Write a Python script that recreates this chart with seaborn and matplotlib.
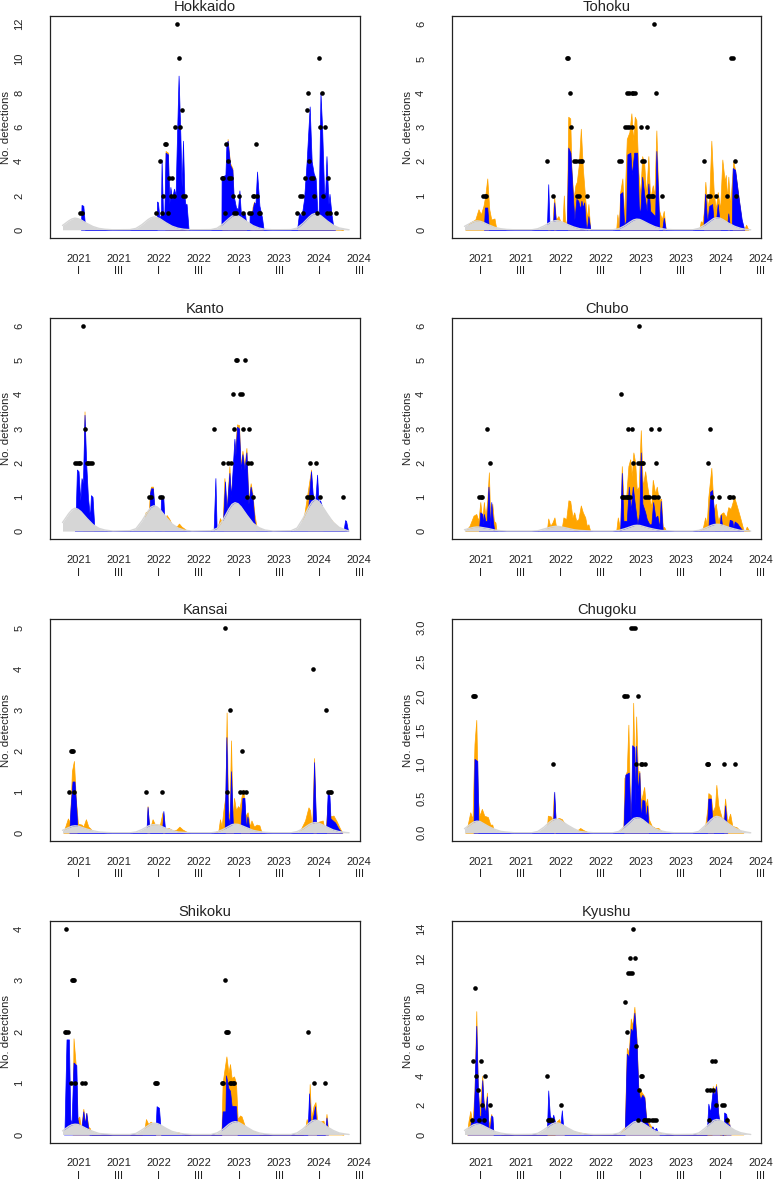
import matplotlib
matplotlib.use("Agg")
import matplotlib.pyplot as plt
import pandas as pd
import seaborn as sns

# x unit everywhere: quarters since 2021 I (0 = 2021 I, 2 = 2021 III, 4 = 2022 I ...)
TICK_POS = list(range(15))
TICK_LABELS = ["2021\nI", "", "2021\nIII", "", "2022\nI", "", "2022\nIII", "",
               "2023\nI", "", "2023\nIII", "", "2024\nI", "", "2024\nIII"]

# baseline (grey) curve, same weeks in all regions
GREY_X = [-0.82, -0.5, -0.35, -0.2, -0.05, 0.1, 0.4, 0.7, 1.0, 1.3, 1.7,
          2.55, 2.85, 3.15, 3.45, 3.6, 3.75, 3.9, 4.05, 4.35, 4.65, 4.95, 5.25, 5.65,
          6.6, 6.9, 7.2, 7.5, 7.65, 7.8, 7.95, 8.1, 8.4, 8.7, 9.0, 9.3, 9.7,
          10.6, 10.9, 11.2, 11.5, 11.65, 11.8, 11.95, 12.1, 12.4, 12.7, 13.0, 13.3, 13.5]

# Hokkaido
HOK_GREY = [.25, .53, .63, .68, .65, .58, .37, .19, .08, .03, 0,
            .01, .08, .30, .59, .70, .75, .72, .64, .41, .21, .09, .03, 0,
            .01, .09, .34, .66, .80, .85, .82, .72, .47, .24, .10, .03, 0,
            .01, .10, .38, .74, .89, .95, .91, .81, .52, .27, .11, .04, 0]
HOK_BLUE_X = [.1, .13, .22, .32,
              3.88, 3.9, 3.95, 4.02, 4.1, 4.13, 4.2, 4.27, 4.33, 4.45, 4.52, 4.57, 4.65, 4.75, 4.83, 4.88, 4.98, 5.07, 5.13, 5.2, 5.27, 5.32, 5.38, 5.48,
              7.12, 7.13, 7.32, 7.37, 7.43, 7.55, 7.67, 7.73, 7.85, 7.95, 8.02, 8.1, 8.22, 8.3, 8.4,
              8.52, 8.53, 8.67, 8.75, 8.82, 8.9, 9.02, 9.15, 9.23,
              10.9, 11.0, 11.13, 11.25, 11.38, 11.45, 11.53, 11.63, 11.73, 11.83, 11.92, 11.98, 12.07, 12.15, 12.25, 12.3, 12.37, 12.47, 12.52, 12.62, 12.72, 12.8]
HOK_BLUE_Y = [0, 1.45, 1.4, 0,
              0, 1.65, 1.6, .7, .9, 4.1, 1.0, 1.0, 4.5, 4.4, 1.5, 2.5, 1.8, 2.4, 2.0, 4.5, 9.0, 5.5, 2.5, 5.2, 2.0, 1.5, 1.5, 0,
              0, 3.1, 3.2, 5.0, 5.2, 3.8, 3.5, 2.0, 1.3, 1.2, 2.3, .8, 1.0, .9, 0,
              0, .9, 1.1, 1.6, 1.5, 3.4, 1.4, .7, 0,
              0, 1.0, .8, 1.8, 4.0, 5.5, 7.2, 4.0, 3.3, 3.0, .9, 1.0, 8.0, 6.0, 2.2, 2.0, 4.3, 1.5, 2.1, .9, .1, 0]
HOK_ORANGE_X = [4.31, 4.33, 4.45, 4.52, 6.95, 7.03, 7.1, 7.12, 7.41, 7.43, 7.55, 7.67, 7.73, 8.62, 8.67, 8.75, 8.8, 12.7, 12.85, 13.05, 13.2]
HOK_ORANGE_Y = [0, 4.6, 4.5, 0, 0, .12, .3, 0, 0, 5.3, 3.9, 3.6, 0, 0, 1.3, 1.65, 0, 0, .12, .04, 0]
HOK_PTS_X = [.05, .13, 3.83, 4.13, 4.43, 4.07, 4.22, 4.28, 4.37, 4.52, 4.67, 4.58, 4.73, 4.82, 5.07, 4.90, 4.98, 5.13, 5.22, 5.30,
             7.13, 7.22, 7.28, 7.37, 7.45, 7.52, 7.60, 7.68, 7.75, 7.83, 7.98, 8.22, 8.52, 8.60, 8.68, 8.75, 8.90, 8.83, 8.98, 9.07,
             10.92, 11.07, 11.15, 11.22, 11.30, 11.38, 11.45, 11.52, 11.60, 11.68, 11.75, 11.92, 12.0, 12.07, 12.15, 12.22, 12.30, 12.45, 12.38, 12.53, 12.83]
HOK_PTS_Y = [1, 1, 1, 1, 1, 4, 2, 5, 5, 3, 3, 2, 2, 6, 6, 12, 10, 7, 2, 2,
             3, 3, 1, 5, 4, 3, 3, 2, 1, 1, 2, 1, 1, 1, 2, 2, 2, 5, 1, 1,
             1, 2, 2, 1, 3, 7, 8, 4, 3, 3, 2, 1, 10, 6, 8, 2, 6, 3, 1, 1, 1]

# Tohoku
TOH_GREY = [.10, .20, .24, .26, .25, .22, .14, .07, .03, .01, 0,
            0, .03, .11, .21, .25, .27, .26, .23, .15, .08, .03, .01, 0,
            0, .03, .12, .24, .29, .31, .30, .26, .17, .09, .04, .01, 0,
            0, .04, .14, .27, .33, .35, .34, .30, .19, .10, .04, .01, 0]
TOH_BLUE_X = [.15, .2, .32, .4,
              3.3, 3.37, 3.43, 3.48, 3.6, 3.67, 3.75, 3.78,
              4.3, 4.37, 4.48, 4.62, 4.68, 4.78, 4.87, 4.97, 5.03, 5.1, 5.17, 5.25, 5.3, 5.38, 5.48,
              6.93, 6.97, 7.08, 7.17, 7.27, 7.33, 7.48, 7.55, 7.67, 7.82, 7.9, 7.97, 8.07, 8.18, 8.3, 8.38, 8.47, 8.63, 8.72, 8.78, 8.87, 8.93,
              9.07, 9.15, 9.25,
              11.13, 11.22, 11.32, 11.43, 11.57, 11.67, 11.77, 11.85, 11.93, 12.0,
              12.3, 12.38, 12.47, 12.55, 12.6, 12.72, 12.88, 13.05, 13.18]
TOH_BLUE_Y = [0, .65, .65, 0,
              0, 1.33, .2, 0, 0, .8, .25, 0,
              0, 2.4, 2.25, .8, .3, .9, .85, .6, .85, .65, .8, .15, 0, .4, 0,
              0, 1.05, 1.1, .1, .3, 2.2, 2.25, 1.6, 2.25, 2.25, .7, .45, 1.55, 1.0, .55, 1.35, .55, .45, .4, 2.3, 1.0, 0,
              0, .35, 0,
              0, 1.05, .2, .7, .75, .1, .3, .75, .3, 0,
              0, .48, 0, 0, 1.8, 1.75, 1.0, .3, 0]
TOH_ORANGE_X = [-.78, -.57, -.28, -.12, 0, .13, .22, .32, .42, .52, .68, .78,
                3.6, 3.62, 3.67, 3.75, 3.88, 4.0, 4.08, 4.15, 4.22, 4.3, 4.37, 4.47, 4.53, 4.63, 4.73, 4.8, 4.9, 5.0, 5.1, 5.22, 5.32, 5.38, 5.47,
                6.77, 6.83, 6.9, 6.97, 7.08, 7.17, 7.23, 7.3, 7.43, 7.53, 7.62, 7.7, 7.78, 7.88, 7.97, 8.07, 8.17, 8.27, 8.38, 8.47, 8.6, 8.68, 8.78, 8.9, 9.05, 9.15, 9.25,
                10.93, 11.0, 11.08, 11.15, 11.23, 11.33, 11.43, 11.53, 11.65, 11.75, 11.85, 11.97, 12.08, 12.2, 12.25, 12.33, 12.38, 12.47, 12.63, 12.73, 12.88, 13.05, 13.17, 13.27, 13.38]
TOH_ORANGE_Y = [0, .2, .3, .6, .45, .7, 1.0, 1.5, .6, .3, .33, 0,
                0, .6, .95, .3, .4, .2, .1, 1.0, .1, .3, 3.3, 3.25, 1.8, .9, 1.3, 1.4, 1.9, 2.95, 1.8, .9, .3, .75, 0,
                0, .45, .1, 1.1, 1.5, .3, 1.5, 2.65, 2.85, 3.4, 2.6, 3.3, 3.2, 1.7, 1.0, 2.15, 1.95, 1.0, 2.15, .9, 1.3, 1.0, 2.9, .6, .3, .55, 0,
                0, .25, .2, .5, 1.4, .6, 1.0, 2.6, 1.1, .6, 1.1, .6, 2.05, 1.4, 1.6, .9, 1.55, .7, 2.0, 1.7, 1.0, .2, 0, .15, 0]
TOH_PTS_X = [.12, .2, .27, 3.32, 3.62, 4.3, 4.38, 4.47, 4.53, 4.68, 4.77, 4.9, 5.0, 5.08, 4.83, 4.92, 5.32,
             6.92, 7.0, 7.22, 7.32, 7.4, 7.55, 7.3, 7.4, 7.55, 7.63, 7.72, 8.0, 8.32, 8.07, 8.17, 8.38, 8.47, 8.55, 8.63, 8.68, 8.77, 9.07,
             11.15, 11.38, 11.48, 11.78, 12.32, 12.77, 12.53, 12.62, 12.7]
TOH_PTS_Y = [1, 1, 1, 2, 1, 5, 5, 4, 3, 2, 2, 2, 2, 2, 1, 1, 1,
             2, 2, 3, 3, 3, 3, 4, 4, 4, 4, 4, 3, 3, 2, 2, 1, 1, 1, 1, 6, 4, 1,
             2, 1, 1, 1, 1, 1, 5, 5, 2]

# Kanto
KAN_GREY = [.25, .52, .62, .67, .64, .57, .37, .19, .08, .03, 0,
            .01, .07, .30, .58, .70, .74, .71, .63, .41, .21, .09, .03, 0,
            .01, .08, .33, .65, .78, .83, .80, .71, .46, .23, .10, .03, 0,
            .01, .09, .37, .72, .86, .92, .88, .78, .51, .26, .11, .04, 0]
KAN_BLUE_X = [-.2, -.17, -.1, -.02, .07, .13, .2, .28, .37, .45, .55, .6, .68, .78,
              3.52, 3.55, 3.6, 3.7, 3.77, 3.82, 4.07, 4.1, 4.22, 4.3,
              6.73, 6.82, 6.88, 6.93,
              7.18, 7.3, 7.38, 7.52, 7.6, 7.77, 7.82, 7.9, 8, 8.08, 8.17, 8.27, 8.37, 8.47, 8.58, 8.67, 8.77, 8.87,
              11.38, 11.52, 11.6, 11.68, 11.8, 11.9, 11.98, 12.05, 12.13, 12.23,
              13.22, 13.3, 13.35, 13.45]
KAN_BLUE_Y = [0, .3, 1.8, 1.75, .9, 1.55, 1.4, 3.4, 1.9, 1.0, .4, 1.05, 1.0, 0,
              0, 1.1, 1.25, 1.25, .7, 0, 0, 1.05, .95, 0,
              0, 1.55, .1, 0,
              0, 1.45, .6, 1.7, 1.0, 2.7, 2.2, 3.05, 3.0, 1.8, 2.25, 1.8, 2.3, .8, 1.3, 1.0, .3, 0,
              0, 1.2, 1.75, 1.1, .8, 1.65, .8, .9, .75, 0,
              0, .32, .3, 0]
KAN_ORANGE_X = [.22, .28, .37, 3.2, 3.33, 3.5, 3.53, 3.55, 3.6, 3.7, 3.77, 4.28,
                4.3, 4.38, 4.52, 4.63, 4.8, 4.88, 5, 5.13, 5.25, 5.43, 6.85,
                6.97, 7.05, 7.18, 7.27, 7.38, 7.52, 7.6, 7.9, 8, 8.08, 8.17, 8.27, 8.37, 8.47, 8.58, 8.67, 8.77, 8.88, 9.05, 9.22, 10.9,
                11.05, 11.25, 11.6, 11.68, 12.22, 12.47, 12.6, 12.72, 12.88, 13.13]
KAN_ORANGE_Y = [0, 3.5, 0, 0, .55, .6, 1.0, 1.15, 1.3, 1.3, 0, 0,
                .3, .47, .35, .2, .15, .13, .22, .13, .08, 0, 0,
                .2, .38, .2, 1.55, .6, 1.9, 1.0, 3.12, 3.1, 1.9, 2.35, 1.9, 2.43, .85, 1.4, 1.1, .5, .1, .08, 0, 0,
                .1, .45, 1.8, .5, .3, .2, .33, .25, .15, 0]
KAN_PTS_X = [.22, -.18, -.1, -.02, .07, .3, .38, .47, .55, .63, 3.5, 3.58, 4.07, 4.17,
             6.75, 7.22, 7.45, 7.6, 7.68, 7.77, 7.83, 7.92, 8.05, 8.13, 8.22, 8.52, 8.3, 8.45, 8.6, 8.38, 8.68,
             11.42, 11.5, 11.58, 11.65, 11.53, 11.83, 12.07, 13.22]
KAN_PTS_Y = [6, 2, 2, 2, 2, 3, 2, 2, 2, 2, 1, 1, 1, 1,
             3, 2, 2, 2, 4, 3, 5, 5, 4, 4, 3, 3, 5, 2, 2, 1, 1,
             1, 1, 1, 1, 2, 2, 1, 1]

# Chubo
CHU_GREY = [.04, .09, .11, .12, .115, .10, .07, .03, .01, 0, 0,
            0, .01, .06, .11, .13, .14, .135, .12, .08, .04, .02, .01, 0,
            0, .02, .07, .13, .16, .17, .165, .14, .09, .05, .02, .01, 0,
            0, .02, .08, .16, .19, .20, .195, .17, .11, .06, .02, .01, 0]
CHU_BLUE_X = [-.1, -.03, .07, .12, .15, .22, .3, .38, .47, .52, .6, .67,
              6.97, 7.05, 7.13, 7.3, 7.4, 7.5, 7.6, 7.7, 7.83, 7.93, 8.0, 8.08, 8.22, 8.3, 8.43, 8.53, 8.62, 8.73, 8.83, 8.93, 9, 9.1,
              11.38, 11.47, 11.57, 11.67, 11.73, 11.93, 12, 12.08, 12.17,
              12.38, 12.45, 12.58, 12.63, 12.7, 12.83, 13, 13.13]
CHU_BLUE_Y = [0, .55, .5, .2, .5, .3, .3, 1.3, .1, .85, .3, 0,
              0, 1.7, .3, .3, 1.3, .6, 1.3, .8, .2, .5, 2.3, .8, .55, .35, .2, .2, .85, .4, .45, .1, .88, 0,
              0, 1.15, 1.2, .5, 0, 0, .48, .1, 0,
              0, .33, .3, .1, .28, .22, .08, 0]
CHU_ORANGE_X = [-.78, -.57, -.37, -.23, -.12, -.03, .07, .15, .23, .32, .4, .47, .57, .65, .73, .78,
                3.3, 3.37, 3.47, 3.58, 3.68, 3.77, 3.88, 4.05, 4.13, 4.27, 4.38, 4.47, 4.58, 4.67, 4.77, 4.88, 5.0, 5.1, 5.22, 5.3, 5.38, 5.47,
                6.77, 6.85, 6.97, 7.05, 7.13, 7.27, 7.38, 7.47, 7.55, 7.63, 7.72, 7.8, 7.9, 8.0, 8.1, 8.22, 8.3, 8.38, 8.52, 8.6, 8.72, 8.8, 8.9, 9.02, 9.1, 9.17, 9.27,
                10.93, 11.1, 11.22, 11.3, 11.38, 11.53, 11.65, 11.75, 11.87, 12, 12.13, 12.27, 12.38, 12.5, 12.67, 12.8, 12.97, 13.13, 13.22, 13.3, 13.43]
CHU_ORANGE_Y = [0, .15, .45, .5, .3, .85, .3, .85, .4, .9, 1.72, .3, .8, .3, .25, 0,
                0, .37, .15, .25, .4, .1, .15, .1, .4, .35, .9, .88, .4, .55, .3, .35, .75, .55, .4, .15, .2, 0,
                0, .4, .05, 1.9, 1.0, 1.0, 1.9, 2.1, 1.6, 2.3, 2.0, 1.2, 1.3, 2.95, 1.3, 1.75, 1.4, 1.1, .7, 1.5, 1.1, 1.3, .9, .95, .1, .12, 0,
                0, .08, .4, .2, 1.0, 1.85, .6, .8, .3, .5, .55, .4, .7, .65, 1.0, .75, .4, .05, 0, .13, 0]
CHU_PTS_X = [-.1, 0, .08, .32, .47,
             7.0, 7.07, 7.13, 7.22, 7.3, 7.38, 7.47, 7.38, 7.55, 7.62, 7.92, 7.85, 7.97, 8.05, 8.13, 8.23, 8.32, 8.4, 8.53, 8.92, 8.63, 8.72, 8.85, 8.77,
             11.38, 11.47, 11.55, 11.93, 12.4, 12.48, 12.63]
CHU_PTS_Y = [1, 1, 1, 3, 2,
             4, 1, 1, 1, 1, 1, 1, 3, 3, 2, 6, 2, 2, 2, 2, 1, 1, 1, 3, 3, 1, 1, 1, 2,
             2, 3, 1, 1, 1, 1, 1]

# Kansai
KNS_GREY = [.06, .13, .16, .17, .165, .14, .09, .05, .02, .01, 0,
            0, .02, .08, .16, .19, .20, .195, .17, .11, .06, .02, .01, 0,
            0, .02, .08, .16, .20, .21, .205, .18, .12, .06, .03, .01, 0,
            0, .03, .10, .20, .235, .25, .24, .21, .14, .07, .03, .01, 0]
KNS_BLUE_X = [-.48, -.42, -.32, -.22, -.13, -.07,
              3.37, 3.43, 3.53, 3.57, 4.15, 4.22, 4.32,
              7.28, 7.37, 7.45, 7.53, 7.6, 7.7, 7.75, 8.05, 8.17, 8.27, 8.35, 8.42, 8.55,
              11.67, 11.75, 11.85, 11.88, 12.35, 12.43, 12.52, 12.57, 12.8, 12.97, 13.15]
KNS_BLUE_Y = [0, .6, 1.25, 1.25, .6, 0,
              0, .63, .05, 0, 0, .53, 0,
              0, 2.33, .4, .2, 1.5, .1, 0, 0, .85, .85, .1, .4, 0,
              0, 1.72, .2, 0, 0, .98, .9, .35, .25, .1, 0]
KNS_ORANGE_X = [-.78, -.65, -.55, -.45, -.35, -.25, -.15, -.05, .13, .22, .35, .47, .58, .72,
                3.38, 3.43, 3.52, 3.58, 3.68, 3.8, 4.05, 4.18, 4.28, 4.47, 4.72, 4.88, 5.02, 5.18, 5.47, 6.7,
                6.8, 6.97, 7.05, 7.13, 7.22, 7.32, 7.38, 7.45, 7.52, 7.6, 7.68, 7.75, 7.85, 7.95, 8.03, 8.13, 8.22, 8.3, 8.43, 8.55, 8.62, 8.75, 8.88, 9.02, 9.13, 10.9,
                11.05, 11.3, 11.47, 11.55, 11.65, 11.75, 11.83, 12.05, 12.18, 12.27, 12.35, 12.47, 12.55, 12.72, 12.88, 13.05, 13.17]
KNS_ORANGE_Y = [0, .2, .35, .25, 1.5, 1.75, .8, .22, .2, .15, .33, .15, .1, 0,
                0, .65, .1, .15, .33, .2, .2, .5, .1, .12, .05, .08, .15, .08, 0, 0,
                .02, .05, .33, .15, .55, .9, 2.93, .6, .3, 2.25, .3, .85, .55, .65, .6, .9, 1.05, .4, .5, .15, .3, .15, .2, .18, 0, 0,
                .05, .3, .62, .55, .1, 1.82, .25, .28, .3, .1, .2, 1.0, .4, .42, .28, .1, 0]
KNS_PTS_X = [-.48, -.25, -.42, -.35, -.28, 3.37, 4.13, 7.3, 7.38, 7.53, 8.13, 8.07, 8.22, 8.37, 11.68, 12.37, 12.45, 12.53, 12.62]
KNS_PTS_Y = [1, 1, 2, 2, 2, 1, 1, 5, 1, 3, 2, 1, 1, 1, 4, 3, 1, 1, 1]

# Chugoku
CGK_GREY = [.06, .13, .16, .17, .165, .14, .09, .05, .02, .01, 0,
            0, .02, .08, .16, .19, .20, .195, .17, .11, .06, .02, .01, 0,
            0, .02, .09, .17, .21, .22, .215, .19, .12, .06, .03, .01, 0,
            0, .02, .10, .19, .225, .24, .23, .20, .13, .07, .03, .01, 0]
CGK_BLUE_X = [-.37, -.32, -.18, -.12, 3.6, 3.67, 3.77,
              7.13, 7.23, 7.4, 7.5, 7.57, 7.68, 7.72, 7.77, 7.85, 7.93, 8, 8.08, 8.18, 8.25, 8.32, 8.4,
              11.3, 11.38, 11.5, 11.6, 11.67, 12.13, 12.22, 12.33]
CGK_BLUE_Y = [0, 1.08, 1.05, 0, 0, .6, 0,
              0, .85, .88, .1, 1.28, 1.25, .4, 1.27, .6, .88, .2, .48, .47, .2, .4, 0,
              0, .5, .5, .1, 0, 0, .4, 0]
CGK_ORANGE_X = [-.78, -.67, -.53, -.42, -.32, -.23, -.15, -.07, .05, .17, .35, .47, .57, .67, 3.2,
                3.3, 3.35, 3.5, 3.58, 3.65, 3.75, 3.88, 4.05, 4.22, 4.38, 4.6, 4.75, 4.97, 5.13, 5.42, 6.85,
                6.97, 7.13, 7.18, 7.3, 7.38, 7.47, 7.55, 7.62, 7.7, 7.77, 7.85, 7.93, 8, 8.08, 8.17, 8.25, 8.32, 8.4, 8.55, 8.72, 8.88, 9.1, 11.1,
                11.22, 11.33, 11.38, 11.5, 11.6, 11.72, 11.78, 11.88, 12.05, 12.13, 12.22, 12.33, 12.47, 12.58, 12.8, 12.97, 13.13]
CGK_ORANGE_Y = [0, .1, .3, .2, 1.3, 1.65, .5, .25, .35, .25, .23, .12, .12, 0, 0,
                .05, .25, .24, .18, .58, .15, .22, .2, .12, .06, .03, .02, .07, .04, 0, 0,
                .03, .1, .8, .9, 1.58, .3, .5, 1.9, .8, 1.7, .9, .9, .45, .55, .67, .4, .5, .2, .1, .07, .07, 0, 0,
                .1, .35, .58, .55, .3, .4, .7, .4, .22, .2, .5, .15, .28, .1, .08, .03, 0]
CGK_PTS_X = [-.38, -.34, -.3, 3.62, 7.15, 7.23, 7.32, 7.85, 7.53, 7.63, 7.72, 7.77, 8, 8.08, 8.23, 11.3, 11.35, 11.38, 12.17, 12.7]
CGK_PTS_Y = [2, 2, 2, 1, 2, 2, 2, 2, 3, 3, 3, 1, 1, 1, 1, 1, 1, 1, 1, 1]

# Shikoku
SHI_GREY = [.07, .16, .19, .20, .195, .17, .11, .06, .02, .01, 0,
            0, .02, .09, .17, .21, .22, .215, .19, .12, .06, .03, .01, 0,
            0, .03, .10, .20, .235, .25, .24, .21, .14, .07, .03, .01, 0,
            0, .03, .11, .22, .265, .28, .27, .24, .15, .08, .03, .01, 0]
SHI_BLUE_X = [-.75, -.72, -.62, -.5, -.43, -.37, -.27, -.13, -.07, .05, .12, .22, .3, .37, .45, .52,
              3.82, 3.88, 4, 4.1,
              7.12, 7.18, 7.32, 7.35, 7.47, 7.55, 7.63, 7.85, 7.92,
              11.42, 11.5, 11.58, 11.68, 11.8, 11.88, 12.3, 12.37, 12.45]
SHI_BLUE_Y = [0, .1, 1.85, 1.85, .3, .2, 1.4, 1.35, .3, .1, .1, .45, .2, .42, .15, 0,
              0, .55, .52, 0,
              0, .45, .45, 1.15, .9, .85, .56, .55, 0,
              0, .8, .2, .3, .55, 0, 0, .33, 0]
SHI_ORANGE_X = [-.32, -.27, -.17, -.08, .02, .1, .22, .32, .37, .47, .55, .63, 3.15,
                3.25, 3.35, 3.47, 3.58, 3.75, 3.97, 4.4, 4.72, 4.97, 5.3,
                7.12, 7.18, 7.25, 7.37, 7.47, 7.55, 7.63, 7.75, 7.85, 7.93, 8.05, 8.13, 8.3, 8.47, 8.63, 8.8, 9.02, 11.2,
                11.3, 11.38, 11.47, 11.53, 11.6, 11.72, 11.82, 11.92, 12.05, 12.22, 12.3, 12.37, 12.45, 12.72, 13.05, 13.22]
SHI_ORANGE_Y = [0, 1.87, 1.4, .3, .35, .1, .5, .2, .42, .15, .12, 0, 0,
                .05, .3, .2, .25, .2, .1, .03, .02, .04, 0,
                0, 1.0, 1.2, 1.52, 1.2, 1.37, 1.1, 1.13, 1.0, .3, .37, .35, .15, .1, .07, .05, 0, 0,
                .1, .3, .15, .98, .3, .55, .63, .2, .25, .27, .1, .4, .1, .05, .01, 0]
SHI_PTS_X = [-.63, -.72, -.67, -.55, -.33, -.29, -.25, -.4, -.18, .13, .28, 3.82, 3.87, 3.92,
             7.3, 7.37, 7.41, 7.45, 7.13, 7.22, 7.53, 7.6, 7.68, 7.77, 11.45, 11.75, 12.3]
SHI_PTS_Y = [4, 2, 2, 2, 3, 3, 3, 1, 1, 1, 1, 1, 1, 1,
             3, 2, 2, 2, 1, 1, 1, 1, 1, 1, 2, 1, 1]

# Kyushu
KYU_GREY = [.27, .56, .67, .72, .69, .61, .40, .20, .09, .03, 0,
            .01, .08, .32, .62, .75, .80, .77, .68, .44, .22, .10, .03, 0,
            .01, .09, .36, .70, .85, .90, .86, .77, .50, .25, .11, .04, 0,
            .01, .10, .41, .80, .96, 1.02, .98, .87, .56, .29, .12, .04, 0]
KYU_BLUE_X = [-.67, -.53, -.45, -.37, -.32, -.23, -.15, -.07, 0, .07, .13, .22, .3, .38, .45, .52, .58, .63,
              3.3, 3.37, 3.45, 3.55, 3.62, 3.7, 3.8, 3.97, 4.05, 4.13, 4.18,
              7.2, 7.3, 7.4, 7.5, 7.58, 7.68, 7.78, 7.88, 7.97, 8.08, 8.18, 8.27, 8.47, 8.58, 8.67, 8.77, 8.85, 8.92, 8.93,
              11.3, 11.38, 11.47, 11.6, 11.68, 11.77, 11.87, 11.97, 12.08, 12.13, 12.17, 12.27, 12.37, 12.43, 12.5]
KYU_BLUE_Y = [0, .6, 1.1, 1.0, 2.8, 7.4, 3.0, 1.2, 1.3, 3.7, 2.2, 1.4, 2.6, .5, .3, 1.3, 1.2, 0,
              0, 3.0, 1.3, 1.0, 1.35, .9, .4, .5, 1.65, .3, 0,
              0, 5.5, 5.3, 7.2, 7.0, 8.3, 6.5, 3.0, 2.4, 2.7, 2.5, 1.0, .3, .55, .3, .45, .1, .1, 0,
              0, 2.1, 1.5, 3.0, 2.7, 3.3, 1.5, .5, 0, 0, 1.5, 1.4, .6, .7, 0]
KYU_ORANGE_X = [-.7, -.62, -.53, -.42, -.32, -.23, -.15, -.07, .07, .13, .22, .3, .38, .52, .63, .8, 1.05,
                3.7, 3.8, 3.92, 4, 4.22, 4.55, 5, 5.3, 5.47, 6.95,
                7.05, 7.2, 7.3, 7.4, 7.5, 7.58, 7.68, 7.78, 7.88, 8.08, 8.18, 8.27, 8.63, 9.13, 9.3,
                11.55, 11.6, 11.68, 11.77, 11.87, 11.95, 12.25, 12.3, 12.4, 12.47, 12.63, 13.13]
KYU_ORANGE_Y = [0, .9, 1.6, .8, 3, 8.4, 3.2, 1.5, 4.0, 2.4, 1.5, 2.85, .6, 1.4, .2, .05, 0,
                0, .9, 1.05, .5, .3, .15, .12, .05, 0, 0,
                .3, .5, 5.9, 5.6, 7.9, 7.4, 8.7, 6.7, 3.2, 2.8, 2.6, 1.1, .3, .02, 0,
                0, 3.3, 2.9, 3.45, 1.6, 0, 0, 1.2, 1.0, .3, .08, 0]
KYU_PTS_X = [-.45, -.38, -.3, -.23, -.15, -.07, 0, .08, .15, .23, .47,
             3.32, 3.38, 3.43, 3.47, 3.58, 4,
             7.23, 7.32, 7.38, 7.47, 7.55, 7.47, 7.7, 7.62, 7.77, 7.85, 7.93, 8, 8.08, 8.15, 8.23, 8.33, 8.43, 8.55, 8.67, 8.77,
             11.32, 11.47, 11.63, 11.4, 11.55, 11.72, 11.78, 12.08, 12.18, 12.32]
KYU_PTS_Y = [1, 5, 10, 4, 3, 1, 5, 2, 1, 4, 2,
             4, 1, 1, 1, 1, 2,
             9, 7, 11, 11, 11, 12, 12, 14, 6, 1, 3, 4, 4, 1, 1, 1, 1, 1, 1, 1,
             3, 3, 3, 1, 5, 5, 2, 2, 2, 1]

TITLES = ["Hokkaido", "Tohoku", "Kanto", "Chubo", "Kansai", "Chugoku", "Shikoku", "Kyushu"]
Y_MAX = [12, 6, 6, 6, 5, 3, 4, 14]
Y_STEP = [2, 1, 1, 1, 1, 0.5, 1, 2]
GREY_Y = [HOK_GREY, TOH_GREY, KAN_GREY, CHU_GREY, KNS_GREY, CGK_GREY, SHI_GREY, KYU_GREY]
BLUE_X = [HOK_BLUE_X, TOH_BLUE_X, KAN_BLUE_X, CHU_BLUE_X, KNS_BLUE_X, CGK_BLUE_X, SHI_BLUE_X, KYU_BLUE_X]
BLUE_Y = [HOK_BLUE_Y, TOH_BLUE_Y, KAN_BLUE_Y, CHU_BLUE_Y, KNS_BLUE_Y, CGK_BLUE_Y, SHI_BLUE_Y, KYU_BLUE_Y]
ORANGE_X = [HOK_ORANGE_X, TOH_ORANGE_X, KAN_ORANGE_X, CHU_ORANGE_X, KNS_ORANGE_X, CGK_ORANGE_X, SHI_ORANGE_X, KYU_ORANGE_X]
ORANGE_Y = [HOK_ORANGE_Y, TOH_ORANGE_Y, KAN_ORANGE_Y, CHU_ORANGE_Y, KNS_ORANGE_Y, CGK_ORANGE_Y, SHI_ORANGE_Y, KYU_ORANGE_Y]
PTS_X = [HOK_PTS_X, TOH_PTS_X, KAN_PTS_X, CHU_PTS_X, KNS_PTS_X, CGK_PTS_X, SHI_PTS_X, KYU_PTS_X]
PTS_Y = [HOK_PTS_Y, TOH_PTS_Y, KAN_PTS_Y, CHU_PTS_Y, KNS_PTS_Y, CGK_PTS_Y, SHI_PTS_Y, KYU_PTS_Y]

W, H = 773, 1180
# axes boxes in pixels of the target image: left edges and top edges of the rows
COL_LEFT = [50.3, 452.3]
COL_RIGHT = [359.7, 761.3]
ROW_TOP = [16, 317.7, 619.3, 920.7]
ROW_BOT = [238, 539.3, 841, 1142.7]


def nonzero_mask(y):
    # skip the flat zero stretches, otherwise their edge tints the baseline
    n = len(y)
    return [y[k] > 0 or (k > 0 and y[k - 1] > 0) or (k < n - 1 and y[k + 1] > 0) for k in range(n)]


def draw_panel(ax, i):
    # thin edge keeps the one-week spikes visible
    ax.fill_between(ORANGE_X[i], 0, ORANGE_Y[i], where=nonzero_mask(ORANGE_Y[i]), color="orange", linewidth=0.5, zorder=1)
    ax.fill_between(BLUE_X[i], 0, BLUE_Y[i], where=nonzero_mask(BLUE_Y[i]), color="#0000ff", linewidth=0.5, zorder=2)
    ax.fill_between(GREY_X, 0, GREY_Y[i], color="#d6d6d6", linewidth=0, zorder=3)
    # grey outline also gives the pale baseline running between the seasons
    sns.lineplot(x=GREY_X, y=GREY_Y[i], ax=ax, color="#d6d6d6", linewidth=1.0, estimator=None, sort=False, legend=False, zorder=4)
    pts = pd.DataFrame({"q": PTS_X[i], "n": PTS_Y[i]})
    sns.scatterplot(data=pts, x="q", y="n", ax=ax, color="black", s=11, linewidth=0, zorder=5, clip_on=False)

    ymax = Y_MAX[i]
    ax.set_xlim(-1.43, 14.03)
    ax.set_ylim(-0.04 * ymax, 1.04 * ymax)
    ax.set_xticks(TICK_POS)
    ax.set_xticklabels(TICK_LABELS, linespacing=1.35)
    n_ticks = int(round(ymax / Y_STEP[i])) + 1
    yticks = [Y_STEP[i] * k for k in range(n_ticks)]
    ax.set_yticks(yticks)
    if Y_STEP[i] < 1:
        ax.set_yticklabels([f"{v:.1f}" for v in yticks], rotation=90, va="center")
    else:
        ax.set_yticklabels([str(v) for v in yticks], rotation=90, va="center")
    ax.tick_params(axis="both", length=5.8, width=0.8, labelsize=8, color="#222222", labelcolor="#222222")
    ax.tick_params(axis="x", pad=5.5)
    ax.tick_params(axis="y", pad=13)
    ax.set_xlabel("")
    ax.set_ylabel("No. detections", fontsize=8.2, color="#222222", labelpad=2.5)
    ax.set_title(TITLES[i], fontsize=10.6, color="#222222", pad=3.5)
    for sp in ax.spines.values():
        sp.set_visible(True)
        sp.set_linewidth(0.9)
        sp.set_color("#222222")


sns.set_theme(style="white")
plt.rcParams["font.family"] = ["Liberation Sans", "DejaVu Sans"]

fig = plt.figure(figsize=(W / 100, H / 100), dpi=100)
for i in range(8):
    col, row = i % 2, i // 2
    left = COL_LEFT[col] / W
    bottom = 1 - ROW_BOT[row] / H
    ax = fig.add_axes([left, bottom, (COL_RIGHT[col] - COL_LEFT[col]) / W, (ROW_BOT[row] - ROW_TOP[row]) / H])
    draw_panel(ax, i)

fig.savefig("out.png", dpi=100)
